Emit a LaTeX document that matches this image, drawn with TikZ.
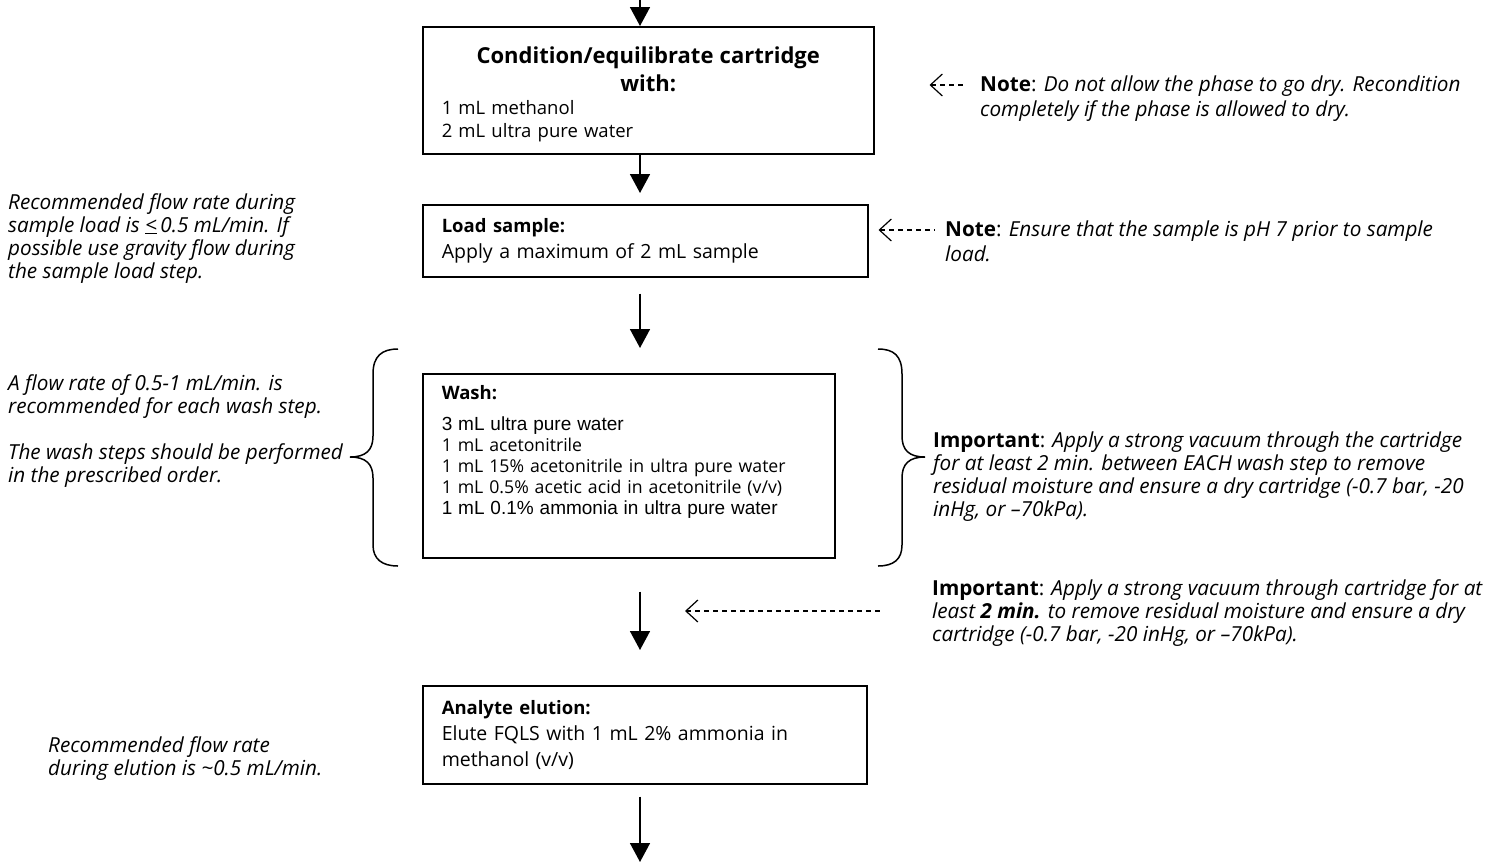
\documentclass[tikz,border=0pt]{standalone}
\usepackage{fontspec}
\setmainfont{Open Sans}
\newfontfamily\arialfont{Liberation Sans}
\usetikzlibrary{arrows.meta}

\newcommand{\titlefont}{\fontsize{18.5}{26}\selectfont\bfseries}

\tikzset{
  box/.style={draw, line width=1.5pt, anchor=north west, inner xsep=19pt, inner ysep=0pt, align=left},
  flow/.style={line width=1.6pt, -{Triangle[length=19pt,width=20pt]}},
  hint/.style={line width=1.2pt, dash pattern=on 5pt off 4pt, {Straight Barb[length=12pt,width=22pt,line width=1.2pt]}-},
  note/.style={anchor=north west, inner sep=0pt, align=left, font=\fontsize{20.7}{23}\selectfont\itshape},
  bracket/.style={line width=1.5pt},
}

\begin{document}
\begin{tikzpicture}[x=1pt,y=-1pt]
    \useasboundingbox (0,0) rectangle (1496,865);
    % column of the main arrows
    \coordinate (top) at (640,0);
    \coordinate (bottom) at (640,862);

    % Steps
    \node[box, text width=413pt, minimum height=127pt, font=\fontsize{18.5}{23}\selectfont] (cond) at (422,26)
        {\mbox{}\\[-3pt]{\centering\fontsize{22}{28}\selectfont\bfseries Condition/equilibrate cartridge\\ with:\par}
        1 mL methanol\\ 2 mL ultra pure water};
    \node[box, text width=407pt, minimum height=72pt, font=\fontsize{19.5}{26}\selectfont] (load) at (422,204)
        {{\titlefont Load sample:}\\ Apply a maximum of 2 mL sample};
    \node[box, text width=374pt, minimum height=184pt, font=\fontsize{17.7}{21}\selectfont] (wash) at (422,373)
        {{\titlefont Wash:}\\[10pt]
        {\arialfont\fontsize{19}{21}\selectfont 3 mL ultra pure water}\\
        1 mL acetonitrile\\
        1 mL 15\% acetonitrile in ultra pure water\\
        1 mL 0.5\% acetic acid in acetonitrile (v/v)\\
        {\arialfont\fontsize{19}{21}\selectfont 1 mL 0.1\% ammonia in ultra pure water}\\[10pt]\mbox{}};
    \node[box, text width=406pt, minimum height=98pt, font=\fontsize{19.5}{26}\selectfont] (elute) at (422,685)
        {{\titlefont Analyte elution:}\\ Elute FQLS with 1 mL 2\% ammonia in\\ methanol (v/v)};

    % Main arrows
    \draw[flow] (top) -- (cond.north -| top);
    \draw[flow, shorten >=11pt] (cond.south -| top) -- (load.north -| top);
    \draw[flow, shorten <=16pt, shorten >=25pt] (load.south -| top) -- (wash.north -| top);
    \draw[flow, shorten <=33pt, shorten >=35pt] (wash.south -| top) -- (elute.north -| top);
    \draw[flow, shorten <=12pt] (elute.south -| top) -- (bottom);

    % Braces round the wash step
    \draw[bracket] (398,349) .. controls (382,349) and (373,356) .. (373,374) -- (373,436)
        .. controls (373,450) and (366,457) .. (350,457)
        .. controls (366,457) and (373,464) .. (373,478) -- (373,545)
        .. controls (373,559) and (382,566) .. (398,566);
    \draw[bracket] (878,349) .. controls (894,349) and (902,356) .. (902,374) -- (902,436)
        .. controls (902,450) and (909,457) .. (925,457)
        .. controls (909,457) and (902,464) .. (902,478) -- (902,545)
        .. controls (902,559) and (894,566) .. (878,566);

    % Notes on the left
    \node[note] (flowload) at (8,193) {Recommended flow rate during\\
        sample load is \underline{<}\,0.5 mL/min. If\\
        possible use gravity flow during\\
        the sample load step.};
    \node[note] (flowwash) at (8,374) {A flow rate of 0.5-1 mL/min. is\\
        recommended for each wash step.\\[23pt]
        The wash steps should be performed\\
        in the prescribed order.};
    \node[note] (flowelute) at (48,736) {Recommended flow rate\\
        during elution is \textasciitilde0.5 mL/min.};

    % Notes on the right
    \node[note, font=\fontsize{20.7}{25}\selectfont\itshape] (drynote) at (980,76)
        {{\upshape\textbf{Note}:} Do not allow the phase to go dry. Recondition\\
        completely if the phase is allowed to dry.};
    \node[note, font=\fontsize{20.7}{25}\selectfont\itshape] (phnote) at (945,221)
        {{\upshape\textbf{Note}:} Ensure that the sample is pH 7 prior to sample\\
        load.};
    \node[note] (vacwash) at (933,432) {{\upshape\textbf{Important}:} Apply a strong vacuum through the cartridge\\
        for at least 2 min. between EACH wash step to remove\\
        residual moisture and ensure a dry cartridge (-0.7 bar, -20\\
        inHg, or –70kPa).};
    \node[note] (vacdry) at (932,579) {{\upshape\textbf{Important}:} Apply a strong vacuum through cartridge for at\\
        least \textbf{2 min.} to remove residual moisture and ensure a dry\\
        cartridge (-0.7 bar, -20 inHg, or –70kPa).};

    % Dashed pointers
    \coordinate (p1) at ([xshift=-15pt,yshift=-9pt]drynote.north west);
    \coordinate (p2) at ([xshift=-10pt,yshift=-9pt]phnote.north west);
    \coordinate (p3) at ([xshift=-52pt,yshift=-32pt]vacdry.north west);
    \draw[hint, shorten <=55pt] (cond.east |- p1) -- (p1);
    \draw[hint, shorten <=10pt] (load.east |- p2) -- (p2);
    \draw[hint, shorten <=45pt] (top |- p3) -- (p3);
\end{tikzpicture}
\end{document}
